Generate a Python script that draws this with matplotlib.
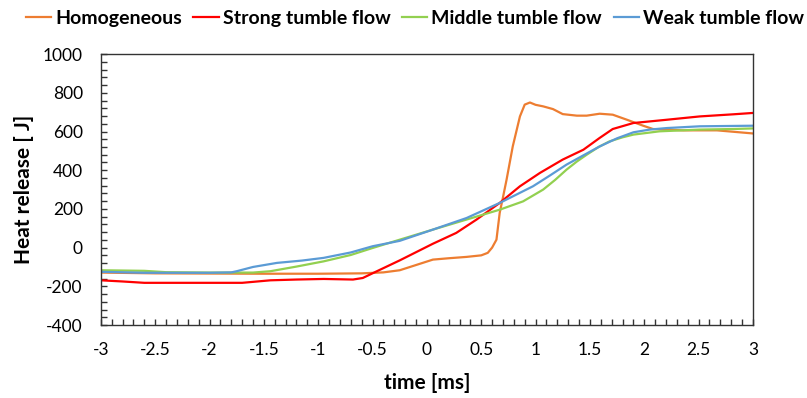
import matplotlib.pyplot as plt
from matplotlib.ticker import MultipleLocator, FuncFormatter

# time [ms] / heat release [J]
homo_t = [-3.0, -2.5, -2.0, -1.5, -1.0, -0.6, -0.4, -0.25, -0.1, 0.055, 0.2, 0.365, 0.5, 0.56, 0.6, 0.64,
          0.67, 0.7, 0.733, 0.79, 0.856, 0.9, 0.948, 1.0, 1.07, 1.16, 1.25, 1.38, 1.47, 1.59, 1.71, 1.84,
          1.99, 2.08, 2.36, 2.67, 3.0]
homo_q = [-129, -133, -134, -135, -135, -133, -128, -117, -90, -62, -55, -48, -40, -27, 0, 41,
          180, 260, 351, 523, 678, 739, 750, 738, 730, 716, 690, 682, 682, 692, 687, 661,
          630, 613, 606, 606, 590]

strong_t = [-3.0, -2.8, -2.6, -2.0, -1.7, -1.44, -1.2, -0.95, -0.68, -0.59, -0.46, -0.25, 0.055, 0.27,
            0.457, 0.67, 0.856, 1.04, 1.25, 1.44, 1.59, 1.71, 1.9, 2.21, 2.51, 2.82, 3.0]
strong_q = [-169, -175, -182, -182, -182, -169, -165, -162, -165, -157, -122, -66, 20, 76,
            145, 231, 317, 386, 455, 506, 567, 613, 644, 661, 678, 689, 696]

middle_t = [-3.0, -2.6, -2.4, -2.0, -1.6, -1.44, -1.2, -0.95, -0.7, -0.5, -0.25, 0.055, 0.365, 0.67,
            0.885, 1.07, 1.18, 1.285, 1.38, 1.47, 1.58, 1.68, 1.8, 1.9, 2.14, 2.51, 2.82, 3.0]
middle_q = [-117, -120, -127, -129, -129, -122, -98, -71, -38, -2, 41, 93, 145, 196,
            239, 300, 350, 403, 445, 480, 520, 549, 570, 584, 601, 610, 613, 616]

weak_t = [-3.0, -2.6, -2.0, -1.8, -1.75, -1.6, -1.38, -1.15, -0.95, -0.7, -0.5, -0.25, 0.055, 0.365,
          0.67, 0.976, 1.13, 1.285, 1.45, 1.59, 1.75, 1.9, 2.05, 2.21, 2.51, 3.0]
weak_q = [-125, -130, -130, -128, -122, -100, -79, -67, -53, -25, 7, 35, 93, 153,
          231, 317, 372, 429, 480, 523, 565, 596, 610, 618, 627, 630]

series = [
    ("Homogeneous", homo_t, homo_q, "#ED7D31"),
    ("Strong tumble flow", strong_t, strong_q, "#FF0000"),
    ("Middle tumble flow", middle_t, middle_q, "#92D050"),
    ("Weak tumble flow", weak_t, weak_q, "#5B9BD5"),
]

plt.rcParams["font.family"] = ["Lato", "DejaVu Sans"]
plt.rcParams["axes.unicode_minus"] = False

fig = plt.figure(figsize=(8.07, 3.98), dpi=100)
ax = fig.add_axes([0.125, 0.1834, 0.808, 0.6806])

for name, t, q, color in series:
    ax.plot(t, q, color=color, linewidth=1.6, label=name)

ax.set_xlim(-3, 3)
ax.set_ylim(-400, 1000)
ax.xaxis.set_major_locator(MultipleLocator(0.5))
ax.xaxis.set_minor_locator(MultipleLocator(0.1))
ax.yaxis.set_major_locator(MultipleLocator(200))
ax.yaxis.set_minor_locator(MultipleLocator(40))
ax.xaxis.set_major_formatter(FuncFormatter(lambda v, p: f"{v:g}"))
ax.tick_params(which="both", direction="in", length=4, width=1, labelsize=12.5, color="#333333")
ax.tick_params(axis="x", pad=12)
ax.tick_params(axis="y", pad=13)
for s in ax.spines.values():
    s.set_color("#333333")
    s.set_linewidth(1)

ax.set_xlabel("time [ms]", fontsize=15, fontweight="bold", labelpad=11)
ax.set_ylabel("Heat release [ J]", fontsize=15, fontweight="bold", labelpad=6)

fig.legend(loc="upper center", bbox_to_anchor=(0.514, 1.02), ncol=4, frameon=False,
           prop={"size": 14, "weight": "bold"}, handlelength=1.3, handletextpad=0.2,
           columnspacing=0.6)

fig.savefig("out.png", dpi=100)
